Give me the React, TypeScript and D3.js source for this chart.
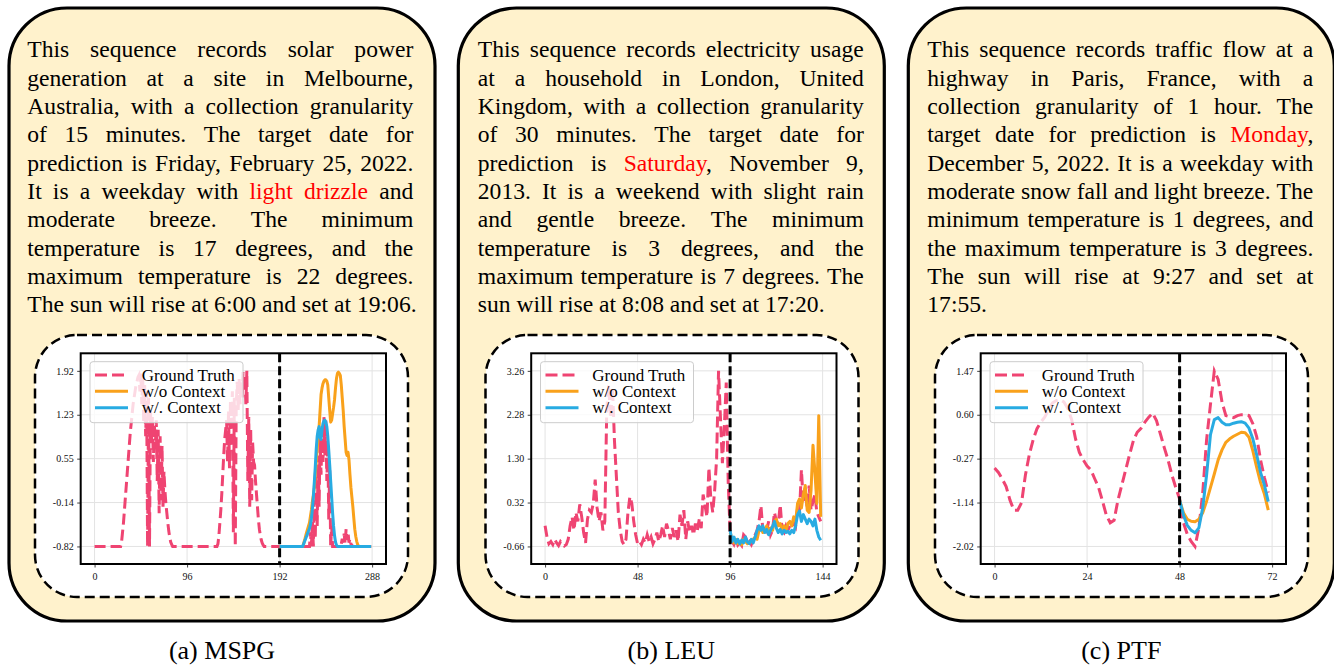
import React, { useEffect, useRef } from "react";
import * as d3 from "d3";

const WIDTH = 1334;
const HEIGHT = 666;
const FONT = "'Liberation Serif', 'Times New Roman', Times, serif";
const PINK = "#EF4472";
const ORANGE = "#F9A11B";
const BLUE = "#28ABE2";
const CREAM = "#FFF2CC";

// ---------- (a) MSPG : solar power, 15 min, 192 history + 96 forecast ----------
const mspgLines = [
  "This sequence records solar power",
  "generation at a site in Melbourne,",
  "Australia, with a collection granularity",
  "of 15 minutes. The target date for",
  "prediction is Friday, February 25, 2022.",
  "It is a weekday with {light drizzle} and",
  "moderate breeze. The minimum",
  "temperature is 17 degrees, and the",
  "maximum temperature is 22 degrees.",
  "The sun will rise at 6:00 and set at 19:06.",
];
const mspgXTicks = [0, 96, 192, 288];
const mspgYTicks = [-0.82, -0.135, 0.55, 1.235, 1.92];
const mspgYLabels = ["-0.82", "-0.14", "0.55", "1.23", "1.92"];
const mspgTruth = [
  -0.82, -0.82, -0.82, -0.82, -0.82, -0.82, -0.82, -0.82, -0.82, -0.82,
  -0.82, -0.82, -0.82, -0.82, -0.82, -0.82, -0.82, -0.82, -0.82, -0.82,
  -0.82, -0.82, -0.82, -0.82, -0.82, -0.82, -0.82, -0.82, -0.75, -0.6,
  -0.45, -0.25, -0.05, 0.15, 0.35, 0.55, 0.75, 0.95, 1.1, 1.25,
  1.4, 1.5, 1.6, 1.7, 1.75, 1.82, 1.85, 1.6, 1.88, 1.4,
  1.8, 1.1, 1.7, 0.9, 1.6, -0.82, 1.5, -0.82, 1.3, 0.8,
  1.2, 0.5, 1.1, 0.7, 1.15, 0.2, 1.0, -0.3, 0.9, -0.1,
  0.75, -0.2, 0.35, 0.05, -0.15, -0.3, -0.45, -0.58, -0.68, -0.75,
  -0.79, -0.82, -0.82, -0.82, -0.82, -0.82, -0.82, -0.82, -0.82, -0.82,
  -0.82, -0.82, -0.82, -0.82, -0.82, -0.82, -0.82, -0.82, -0.82, -0.82,
  -0.82, -0.82, -0.82, -0.82, -0.82, -0.82, -0.82, -0.82, -0.82, -0.82,
  -0.82, -0.82, -0.82, -0.82, -0.82, -0.82, -0.82, -0.82, -0.82, -0.82,
  -0.82, -0.82, -0.82, -0.82, -0.82, -0.82, -0.82, -0.82, -0.78, -0.65,
  -0.45, -0.25, 0.0, 0.3, 0.6, 0.85, 1.0, 1.15, 0.5, 1.3,
  0.4, 1.45, 1.2, 1.6, -0.6, 1.5, -0.82, 1.4, 1.75, 1.3,
  1.8, 1.4, 1.75, 1.5, 1.9, 1.6, 1.85, 1.4, 1.92, 0.2,
  1.2, -0.2, 1.0, -0.1, 0.8, 0.5, 0.45, 0.2, 0.0, -0.2,
  -0.4, -0.55, -0.65, -0.72, -0.77, -0.8, -0.82, -0.82, -0.82, -0.82,
  -0.82, -0.82, -0.82, -0.82, -0.82, -0.82, -0.82, -0.82, -0.82, -0.82,
  -0.82, -0.82, -0.82, -0.82, -0.82, -0.82, -0.82, -0.82, -0.82, -0.82,
  -0.82, -0.82, -0.82, -0.82, -0.82, -0.82, -0.82, -0.82, -0.82, -0.82,
  -0.82, -0.82, -0.82, -0.82, -0.82, -0.82, -0.82, -0.82, -0.82, -0.82,
  -0.82, -0.82, -0.82, -0.82, -0.6, -0.82, -0.4, -0.82, -0.1, -0.7,
  0.3, -0.5, 0.6, -0.2, 0.9, 0.3, 1.0, 0.5, 1.2, 0.6,
  1.15, 0.2, 0.8, -0.4, 0.4, -0.82, -0.5, -0.82, -0.82, -0.82,
  -0.82, -0.82, -0.82, -0.82, -0.82, -0.82, -0.78, -0.7, -0.76, -0.62,
  -0.78, -0.55, -0.72, -0.6, -0.76, -0.7, -0.78, -0.8, -0.82, -0.82,
  -0.82, -0.82, -0.82, -0.82, -0.82, -0.82, -0.82, -0.82, -0.82, -0.82,
  -0.82, -0.82, -0.82, -0.82, -0.82, -0.82, -0.82, -0.82,
];
const mspgNoCtx = [
  -0.82, -0.82, -0.82, -0.82, -0.82, -0.82, -0.82, -0.82, -0.82, -0.82,
  -0.82, -0.82, -0.82, -0.82, -0.82, -0.82, -0.82, -0.82, -0.82, -0.82,
  -0.82, -0.82, -0.82, -0.82, -0.82, -0.77, -0.72, -0.66, -0.6, -0.55,
  -0.5, -0.45, -0.35, -0.25, -0.12, -0.02, 0.1, 0.3, 0.5, 0.7,
  0.9, 1.05, 1.3, 1.55, 1.65, 1.72, 1.76, 1.78, 1.78, 1.76,
  1.7, 1.5, 1.3, 1.12, 1.15, 1.25, 1.35, 1.47, 1.65, 1.8,
  1.88, 1.9, 1.88, 1.85, 1.7, 1.5, 1.3, 1.05, 0.85, 0.65,
  0.6, 0.65, 0.53, 0.3, 0.1, -0.05, -0.2, -0.38, -0.55, -0.66,
  -0.74, -0.79, -0.82, -0.82, -0.82, -0.82, -0.82, -0.82, -0.82, -0.82,
  -0.82, -0.82, -0.82, -0.82, -0.82, -0.82,
];
const mspgCtx = [
  -0.82, -0.82, -0.82, -0.82, -0.82, -0.82, -0.82, -0.82, -0.82, -0.82,
  -0.82, -0.82, -0.82, -0.82, -0.82, -0.82, -0.82, -0.82, -0.82, -0.82,
  -0.82, -0.82, -0.82, -0.82, -0.82, -0.78, -0.74, -0.7, -0.66, -0.62,
  -0.58, -0.54, -0.48, -0.38, -0.24, -0.05, 0.18, 0.42, 0.7, 0.9,
  1.0, 1.05, 0.88, 0.85, 1.0, 1.1, 1.14, 1.15, 1.12, 1.05,
  0.9, 0.68, 0.45, 0.2, -0.05, -0.3, -0.5, -0.65, -0.75, -0.8,
  -0.82, -0.82, -0.82, -0.82, -0.82, -0.82, -0.82, -0.82, -0.82, -0.82,
  -0.82, -0.82, -0.82, -0.82, -0.82, -0.82, -0.82, -0.82, -0.82, -0.82,
  -0.82, -0.82, -0.82, -0.82, -0.82, -0.82, -0.82, -0.82, -0.82, -0.82,
  -0.82, -0.82, -0.82, -0.82, -0.82, -0.82,
];

// ---------- (b) LEU : electricity usage, 30 min, 96 history + 48 forecast ----------
const leuLines = [
  "This sequence records electricity usage",
  "at a household in London, United",
  "Kingdom, with a collection granularity",
  "of 30 minutes. The target date for",
  "prediction is {Saturday}, November 9,",
  "2013. It is a weekend with slight rain",
  "and gentle breeze. The minimum",
  "temperature is 3 degrees, and the",
  "maximum temperature is 7 degrees. The",
  "sun will rise at 8:08 and set at 17:20.",
];
const leuXTicks = [0, 48, 96, 144];
const leuYTicks = [-0.66, 0.32, 1.3, 2.28, 3.26];
const leuYLabels = ["-0.66", "0.32", "1.30", "2.28", "3.26"];
const leuTruth = [
  -0.2, -0.45, -0.6, -0.55, -0.62, -0.5, -0.58, -0.64, -0.55, -0.6,
  -0.65, -0.62, -0.5, -0.2, 0.0, -0.3, 0.1, -0.1, 0.28, 0.0,
  -0.35, -0.58, -0.05, 0.15, 0.1, 0.3, 0.83, 0.2, -0.1, 0.1,
  -0.3, -0.1, 2.4, 2.95, 2.2, 2.9, 1.7, 0.9, 0.1, -0.3,
  -0.55, -0.62, -0.5, 0.1, 0.45, 0.3, -0.1, -0.4, -0.6, -0.55,
  -0.62, -0.5, -0.58, -0.4, -0.55, -0.45, -0.6, -0.5, -0.35, -0.55,
  -0.4, -0.2, -0.45, -0.15, -0.3, -0.5, -0.25, -0.45, -0.3, -0.55,
  0.05, -0.2, 0.15, -0.5, -0.1, -0.35, -0.2, -0.4, -0.15, -0.3,
  -0.05, -0.25, 0.5, 0.25, 0.0, 1.1, 0.4, 0.1, 0.6, 1.3,
  3.26, 2.2, 1.2, 2.0, 3.0, 0.8, -0.35, -0.55, -0.62, -0.5,
  -0.63, -0.58, -0.64, -0.4, -0.45, -0.6, -0.55, -0.62, -0.5, -0.4,
  -0.3, -0.1, 0.25, -0.3, -0.2, -0.3, -0.1, -0.4, -0.3, 0.1,
  -0.1, -0.15, 0.27, -0.3, -0.35, -0.2, -0.3, -0.2, -0.25, -0.1,
  -0.2, 0.2, 0.1, 1.05, 0.3, 0.6, 0.2, 0.7, 0.15, 0.35,
  0.5, 0.1, 0.0, -0.1,
];
const leuNoCtx = [
  -0.35, -0.5, -0.58, -0.5, -0.6, -0.55, -0.62, -0.5, -0.55, -0.6,
  -0.58, -0.55, -0.5, -0.45, -0.5, -0.3, -0.25, -0.35, -0.3, -0.2,
  -0.35, -0.25, -0.3, -0.1, -0.05, -0.2, -0.15, -0.3, -0.2, -0.3,
  -0.15, -0.1, -0.2, 0.0, -0.1, 0.3, 0.4, 0.2, 0.5, 0.7,
  0.15, 0.1, 0.6, 1.6, 1.0, 0.3, 2.26, 0.0,
];
const leuCtx = [
  -0.3, -0.55, -0.45, -0.58, -0.5, -0.6, -0.52, -0.58, -0.45, -0.56,
  -0.6, -0.5, -0.58, -0.45, -0.3, -0.2, -0.3, -0.2, -0.35, -0.28,
  -0.4, -0.3, -0.22, -0.1, -0.25, -0.35, -0.28, -0.38, -0.3, -0.35,
  -0.32, -0.38, -0.3, -0.35, -0.2, 0.05, 0.13, -0.1, 0.05, -0.05,
  -0.15, -0.05, -0.1, -0.2, -0.05, -0.3, -0.45, -0.52,
];

// ---------- (c) PTF : traffic flow, 1 hour, 48 history + 24 forecast ----------
const ptfLines = [
  "This sequence records traffic flow at a",
  "highway in Paris, France, with a",
  "collection granularity of 1 hour. The",
  "target date for prediction is {Monday},",
  "December 5, 2022. It is a weekday with",
  "moderate snow fall and light breeze. The",
  "minimum temperature is 1 degrees, and",
  "the maximum temperature is 3 degrees.",
  "The sun will rise at 9:27 and set at",
  "17:55.",
];
const ptfXTicks = [0, 24, 48, 72];
const ptfYTicks = [-2.02, -1.1475, -0.275, 0.5975, 1.47];
const ptfYLabels = ["-2.02", "-1.14", "-0.27", "0.60", "1.47"];
const ptfTruth = [
  -0.46, -0.55, -0.68, -0.83, -1.1, -1.3, -1.3, -1.15, -0.6, -0.2,
  0.1, 0.32, 0.45, 0.55, 0.7, 0.83, 0.88, 0.9, 0.85, 0.72,
  0.5, 0.12, -0.15, -0.3, -0.42, -0.5, -0.68, -0.85, -1.12, -1.4,
  -1.55, -1.5, -1.1, -0.8, -0.5, -0.2, 0.08, 0.25, 0.33, 0.45,
  0.55, 0.63, 0.48, 0.22, -0.05, -0.3, -0.6, -0.85, -1.08, -1.55,
  -1.78, -1.92, -2.02, -1.65, -0.95, 0.1, 0.8, 1.47, 1.3, 0.85,
  0.58, 0.56, 0.54, 0.58, 0.6, 0.6, 0.58, 0.42, 0.16, -0.3,
  -0.65, -0.95,
];
const ptfNoCtx = [
  -1.1, -1.35, -1.48, -1.52, -1.53, -1.48, -1.35, -1.12, -0.85, -0.58,
  -0.3, -0.1, 0.05, 0.12, 0.17, 0.21, 0.25, 0.24, 0.15, -0.12,
  -0.45, -0.75, -0.98, -1.3,
];
const ptfCtx = [
  -1.1, -1.4, -1.6, -1.7, -1.75, -1.65, -1.25, -0.6, 0.2, 0.5,
  0.54, 0.45, 0.4, 0.4, 0.43, 0.45, 0.46, 0.43, 0.33, 0.12,
  -0.2, -0.55, -0.8, -1.13,
];

const panels = [
  { lines: mspgLines, caption: "(a) MSPG", truth: mspgTruth, noCtx: mspgNoCtx, withCtx: mspgCtx, hist: 192, xTicks: mspgXTicks, yTicks: mspgYTicks, yLabels: mspgYLabels },
  { lines: leuLines, caption: "(b) LEU", truth: leuTruth, noCtx: leuNoCtx, withCtx: leuCtx, hist: 96, xTicks: leuXTicks, yTicks: leuYTicks, yLabels: leuYLabels },
  { lines: ptfLines, caption: "(c) PTF", truth: ptfTruth, noCtx: ptfNoCtx, withCtx: ptfCtx, hist: 48, xTicks: ptfXTicks, yTicks: ptfYTicks, yLabels: ptfYLabels },
];

// layout (panel 1 coordinates, others shifted)
const OUTER_LEFT = [9, 458.3, 908.3];
const SHIFT = [0, 450.5, 900];
const FS = 23.6; // paragraph font size
const LINE_H = 28.33;
const TEXT_X = 27.3;
const TEXT_W = 386;
const TEXT_Y = 57.3;
const AX = { left: 80.7, right: 386, top: 353.3, bottom: 564 };

function drawParagraph(g: any, lines: string[], x0: number) {
  lines.forEach((line, li) => {
    const y = TEXT_Y + li * LINE_H;
    let red = false;
    const nodes = line.split(" ").map((w) => {
      const t = g.append("text").attr("y", y).attr("font-size", FS).attr("font-family", FONT);
      let buf = "";
      const flush = () => {
        if (buf) t.append("tspan").attr("fill", red ? "#FF0000" : "#000").text(buf);
        buf = "";
      };
      for (const ch of w) {
        if (ch === "{") { flush(); red = true; }
        else if (ch === "}") { flush(); red = false; }
        else buf += ch;
      }
      flush();
      return t;
    });
    const widths = nodes.map((n: any) => n.node().getComputedTextLength());
    const total = d3.sum(widths);
    const last = li === lines.length - 1;
    const gap = last || nodes.length < 2 ? FS * 0.25 : (TEXT_W - total) / (nodes.length - 1);
    let x = x0;
    nodes.forEach((n: any, i: number) => {
      n.attr("x", x);
      x += widths[i] + gap;
    });
  });
}

function drawChart(g: any, p: any, dx: number) {
  const N = p.xTicks[p.xTicks.length - 1];
  const left = AX.left + dx;
  const right = AX.right + dx;
  const x = d3.scaleLinear().domain([-0.05 * N, 1.05 * N]).range([left, right]);
  const lo = p.yTicks[0];
  const hi = p.yTicks[p.yTicks.length - 1];
  const pad = (hi - lo) * 0.1;
  const y = d3.scaleLinear().domain([lo - pad, hi + pad]).range([AX.bottom, AX.top]);

  g.append("rect")
    .attr("x", left).attr("y", AX.top)
    .attr("width", right - left).attr("height", AX.bottom - AX.top)
    .attr("fill", "#fff");

  // grid
  g.append("g").selectAll("line").data(p.yTicks).enter().append("line")
    .attr("x1", left).attr("x2", right)
    .attr("y1", (d: number) => y(d)).attr("y2", (d: number) => y(d))
    .attr("stroke", "#e3e3e3").attr("stroke-width", 1);
  g.append("g").selectAll("line").data(p.xTicks).enter().append("line")
    .attr("y1", AX.top).attr("y2", AX.bottom)
    .attr("x1", (d: number) => x(d)).attr("x2", (d: number) => x(d))
    .attr("stroke", "#e3e3e3").attr("stroke-width", 1);

  const line = (start: number) =>
    d3.line<number>().x((_, i) => x(i + start)).y((d) => y(d));

  g.append("path").datum(p.truth)
    .attr("fill", "none").attr("stroke", PINK).attr("stroke-width", 3)
    .attr("stroke-dasharray", "11,5").attr("d", line(0));
  g.append("path").datum(p.noCtx)
    .attr("fill", "none").attr("stroke", ORANGE).attr("stroke-width", 3)
    .attr("stroke-linejoin", "round").attr("d", line(p.hist));
  g.append("path").datum(p.withCtx)
    .attr("fill", "none").attr("stroke", BLUE).attr("stroke-width", 3)
    .attr("stroke-linejoin", "round").attr("d", line(p.hist));

  // forecast start marker
  g.append("line")
    .attr("x1", x(p.hist)).attr("x2", x(p.hist))
    .attr("y1", AX.top).attr("y2", AX.bottom)
    .attr("stroke", "#000").attr("stroke-width", 3).attr("stroke-dasharray", "9,4");

  // axes
  const yAxis = g.append("g").attr("transform", `translate(${left},0)`)
    .call(d3.axisLeft(y).tickValues(p.yTicks).tickFormat((_: any, i: number) => p.yLabels[i]).tickSize(3.5).tickPadding(3.5));
  const xAxis = g.append("g").attr("transform", `translate(0,${AX.bottom})`)
    .call(d3.axisBottom(x).tickValues(p.xTicks).tickFormat(d3.format("d")).tickSize(3.5).tickPadding(5.6));
  [yAxis, xAxis].forEach((a) => {
    a.select(".domain").remove();
    a.attr("font-family", FONT).attr("font-size", 10);
    a.selectAll("text").attr("fill", "#111");
    a.selectAll("line").attr("stroke", "#111").attr("stroke-width", 0.8);
  });

  g.append("rect")
    .attr("x", left).attr("y", AX.top)
    .attr("width", right - left).attr("height", AX.bottom - AX.top)
    .attr("fill", "none").attr("stroke", "#000").attr("stroke-width", 2);

  // legend
  const lg = g.append("g");
  lg.append("rect")
    .attr("x", left + 9.3).attr("y", AX.top + 8.4)
    .attr("width", 153).attr("height", 61).attr("rx", 3)
    .attr("fill", "#fff").attr("fill-opacity", 0.8)
    .attr("stroke", "#cccccc").attr("stroke-width", 1);
  const items = [
    { label: "Ground Truth", color: PINK, dash: "12,5" },
    { label: "w/o Context", color: ORANGE, dash: null },
    { label: "w/. Context", color: BLUE, dash: null },
  ];
  items.forEach((it, i) => {
    const cy = AX.top + 21.7 + i * 16.35;
    lg.append("line")
      .attr("x1", left + 14.3).attr("x2", left + 47.3)
      .attr("y1", cy).attr("y2", cy)
      .attr("stroke", it.color).attr("stroke-width", 3)
      .attr("stroke-dasharray", it.dash);
    lg.append("text")
      .attr("x", left + 61).attr("y", cy + 5.5)
      .attr("font-family", FONT).attr("font-size", 17).attr("fill", "#000")
      .text(it.label);
  });
}

const App = () => {
  const svgRef = useRef<SVGSVGElement>(null);

  useEffect(() => {
    const svg = d3.select(svgRef.current);
    svg.selectAll("*").remove();

    svg.append("rect").attr("width", WIDTH).attr("height", HEIGHT).attr("fill", "#fff");

    panels.forEach((p, k) => {
      const dx = SHIFT[k];
      const g = svg.append("g");

      g.append("rect")
        .attr("x", OUTER_LEFT[k]).attr("y", 8)
        .attr("width", 426).attr("height", 613).attr("rx", 58)
        .attr("fill", CREAM).attr("stroke", "#000").attr("stroke-width", 3.2);

      g.append("rect")
        .attr("x", 35 + dx).attr("y", 335)
        .attr("width", 373).attr("height", 262).attr("rx", 42)
        .attr("fill", "#fff").attr("stroke", "#000").attr("stroke-width", 2.5)
        .attr("stroke-dasharray", "10,5");

      drawParagraph(g, p.lines, TEXT_X + dx);
      drawChart(g, p, dx);

      g.append("text")
        .attr("x", OUTER_LEFT[k] + 213).attr("y", 659)
        .attr("text-anchor", "middle")
        .attr("font-family", FONT).attr("font-size", 26)
        .text(p.caption);
    });
  }, []);

  return (
    <svg
      ref={svgRef}
      width={WIDTH}
      height={HEIGHT}
      style={{ position: "absolute", left: 0, top: 0 }}
    ></svg>
  );
};

export default App;
